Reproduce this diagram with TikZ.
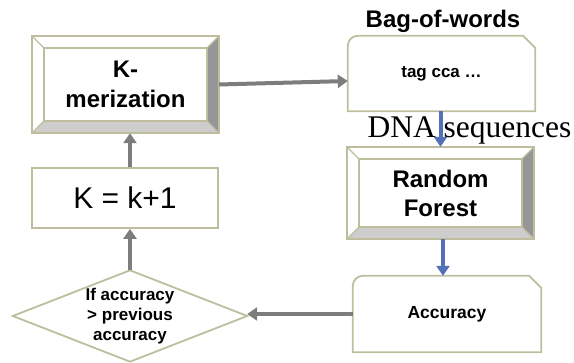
\documentclass[tikz,border=0pt]{standalone}
\usepackage{fontspec}
\setmainfont{Liberation Sans}
\newfontfamily\dnaserif{Liberation Serif}
\usetikzlibrary{arrows.meta,calc}
\definecolor{bord}{RGB}{190,190,158}
\definecolor{bevdark}{RGB}{150,150,150}
\definecolor{bevlight}{RGB}{205,205,205}
\definecolor{arrgray}{RGB}{125,125,125}
\definecolor{arrblue}{RGB}{84,112,182}
\newcommand\bevelize[2]{%
  \coordinate (#1-A) at (#1.north west);
  \coordinate (#1-B) at (#1.north east);
  \coordinate (#1-C) at (#1.south east);
  \coordinate (#1-D) at (#1.south west);
  \coordinate (#1-a) at ([shift={(#2,#2)}]#1.north west);
  \coordinate (#1-b) at ([shift={(-#2,#2)}]#1.north east);
  \coordinate (#1-c) at ([shift={(-#2,-#2)}]#1.south east);
  \coordinate (#1-d) at ([shift={(#2,-#2)}]#1.south west);
  \fill[bevdark] (#1-B) -- (#1-C) -- (#1-c) -- (#1-b) -- cycle;
  \fill[bevlight] (#1-D) -- (#1-C) -- (#1-c) -- (#1-d) -- cycle;
  \draw[bord,line width=1.2pt] (#1-A) -- (#1-a) (#1-B) -- (#1-b) (#1-C) -- (#1-c) (#1-D) -- (#1-d);
  \draw[bord,line width=1.8pt] (#1-a) rectangle (#1-c);
  \draw[bord,line width=1.8pt] (#1-A) rectangle (#1-C);
}
\begin{document}
\begin{tikzpicture}[x=1pt,y=-1pt,
  box/.style={draw=none,inner sep=0pt,align=center},
  bordline/.style={draw=bord,line width=1.8pt},
  grayarrow/.style={draw=arrgray,line width=4pt,-{Triangle[length=10pt,width=13pt]}},
  bluearrow/.style={draw=arrblue,line width=4pt,-{Triangle[length=10pt,width=13pt]}},
  bigbold/.style={font=\fontsize{24}{30}\selectfont\bfseries},
  smallbold/.style={font=\fontsize{17}{20}\selectfont\bfseries}]
\useasboundingbox (0,0) rectangle (574,363);
% K-merization
\node[box,bigbold,minimum width=187pt,minimum height=97pt] (kmer) at (125.5,84.5) {K-\\merization};
\bevelize{kmer}{12}
% K = k+1
\node[box,bordline,draw=bord,minimum width=186pt,minimum height=60pt,font=\fontsize{30}{36}\selectfont] (kbox) at (125,198) {K = k+1};
% Bag-of-words
\node[box,smallbold,minimum width=187pt,minimum height=75pt] (bag) at (441.5,73.5) {tag cca …};
\draw[bordline] (bag.south west) -- ([yshift=-10pt]bag.north west)
  .. controls ([yshift=-4.5pt]bag.north west) and ([xshift=4.5pt]bag.north west) .. ([xshift=10pt]bag.north west)
  -- ([xshift=-12pt]bag.north east) -- ([yshift=-12pt]bag.north east) -- (bag.south east) -- cycle;
\node[box,bigbold,anchor=base] (bagtitle) at (443,28) {Bag-of-words};
% DNA sequences
\node[box,anchor=base,font=\dnaserif\fontsize{31.5}{36}\selectfont] (dna) at (469.5,138) {DNA sequences};
% Random Forest
\node[box,font=\fontsize{24}{29}\selectfont\bfseries,minimum width=187pt,minimum height=92pt] (rf) at (440.5,193) {Random\\Forest};
\bevelize{rf}{12}
% Accuracy
\node[box,font=\fontsize{17.5}{20}\selectfont\bfseries,minimum width=188pt,minimum height=76pt] (acc) at (447,314) {Accuracy};
\draw[bordline] (acc.south west) -- ([yshift=-10pt]acc.north west)
  .. controls ([yshift=-4.5pt]acc.north west) and ([xshift=4.5pt]acc.north west) .. ([xshift=10pt]acc.north west)
  -- ([xshift=-12pt]acc.north east) -- ([yshift=-12pt]acc.north east) -- (acc.south east) -- cycle;
% Diamond
\node[box,smallbold,minimum width=234pt,minimum height=91pt] (dia) at (130,316) {If accuracy\\> previous\\accuracy};
\draw[bordline] (dia.north) -- (dia.east) -- (dia.south) -- (dia.west) -- cycle;
% connectors
\draw[grayarrow] (kmer.east) -- ([yshift=-7.5pt]bag.west);
\draw[bluearrow] ([xshift=-1pt]bag.south) -- ([xshift=-1pt]bag.south |- rf.north);
\draw[bluearrow] ([xshift=2.5pt]rf.south) -- ([xshift=2.5pt]rf.south |- acc.north);
\draw[grayarrow] (acc.west) -- (acc.west -| dia.east);
\draw[grayarrow] (dia.north) -- (dia.north |- kbox.south);
\draw[grayarrow] ([xshift=5pt]kbox.north) -- ([xshift=5pt]kbox.north |- kmer.south);
\end{tikzpicture}
\end{document}
